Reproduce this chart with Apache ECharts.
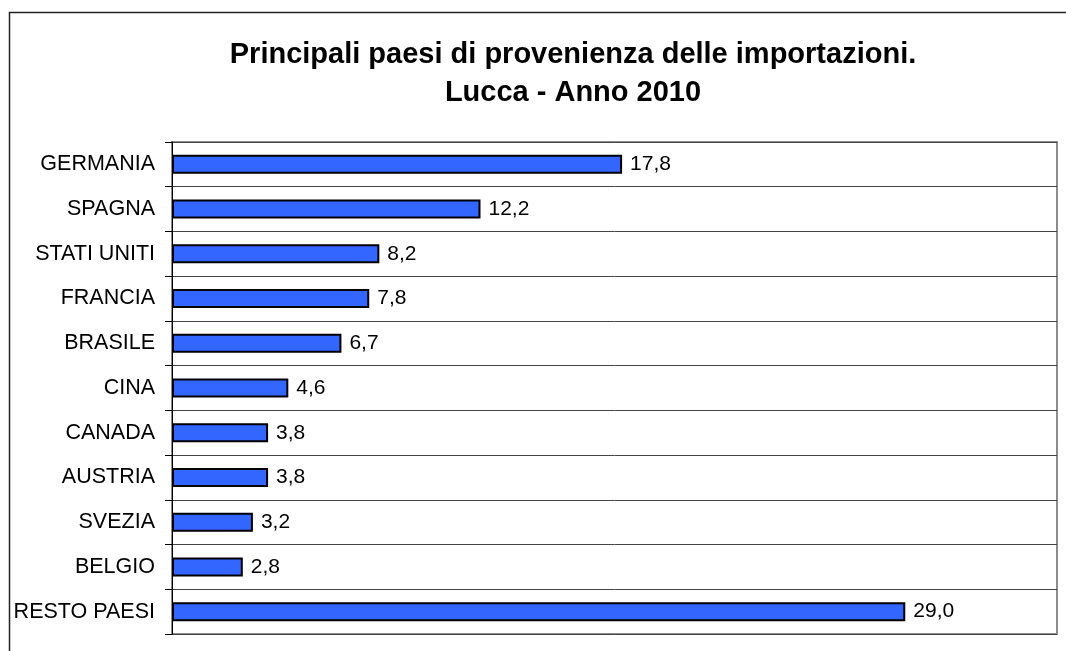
<!DOCTYPE html>
<html><head><meta charset="utf-8">
<script src="https://cdn.jsdelivr.net/npm/echarts@6/dist/echarts.min.js"></script>
<style>html,body{margin:0;padding:0;background:#fff;}#c{width:1066px;height:651px;}</style>
</head><body><div id="c"></div>
<script>
var categories = ["GERMANIA","SPAGNA","STATI UNITI","FRANCIA","BRASILE","CINA","CANADA","AUSTRIA","SVEZIA","BELGIO","RESTO PAESI"];
var values = [17.8, 12.2, 8.2, 7.8, 6.7, 4.6, 3.8, 3.8, 3.2, 2.8, 29.0];
var titleLines = ["Principali paesi di provenienza delle importazioni.", "Lucca - Anno 2010"];

var chart = echarts.init(document.getElementById('c'), null, {renderer:'canvas'});
chart.setOption({
  animation: false,
  backgroundColor: '#fff',
  graphic: [{
    type: 'rect', left: 7, top: 10, z: -1,
    shape: {width: 1080, height: 660},
    style: {fill: 'none', stroke: '#222', lineWidth: 1.5}
  }],
  title: {
    text: titleLines.join('\n'),
    left: 568, top: 31, textAlign: 'center',
    textStyle: {fontFamily: 'Liberation Sans, Arial', fontSize: 29, fontWeight: 'bold', color: '#000', lineHeight: 38}
  },
  grid: {left: 172, top: 142, right: 9, bottom: 17, show: true, borderColor: '#8c8c8c', borderWidth: 2, backgroundColor: 'transparent', containLabel: false},
  xAxis: {
    type: 'value', min: 0, max: 35,
    axisLine: {show: false}, axisTick: {show: false}, axisLabel: {show: false}, splitLine: {show: false}
  },
  yAxis: {
    type: 'category', data: categories, inverse: true, boundaryGap: true,
    axisLine: {show: true, lineStyle: {color: '#000', width: 1}},
    axisTick: {show: true, length: 7, lineStyle: {color: '#000'}},
    axisLabel: {color: '#000', fontFamily: 'Liberation Sans, Arial', fontSize: 21.5, margin: 17},
    splitLine: {show: true, lineStyle: {color: '#444', width: 1}}
  },
  series: [{
    type: 'bar', data: values, barWidth: 19,
    itemStyle: {color: '#3366FF', borderColor: '#000', borderWidth: 2},
    label: {show: true, position: 'right', distance: 8, color: '#000', fontFamily: 'Liberation Sans, Arial', fontSize: 21,
      formatter: function(p){ return p.value.toFixed(1).replace('.', ','); }}
  }]
});
</script></body></html>
